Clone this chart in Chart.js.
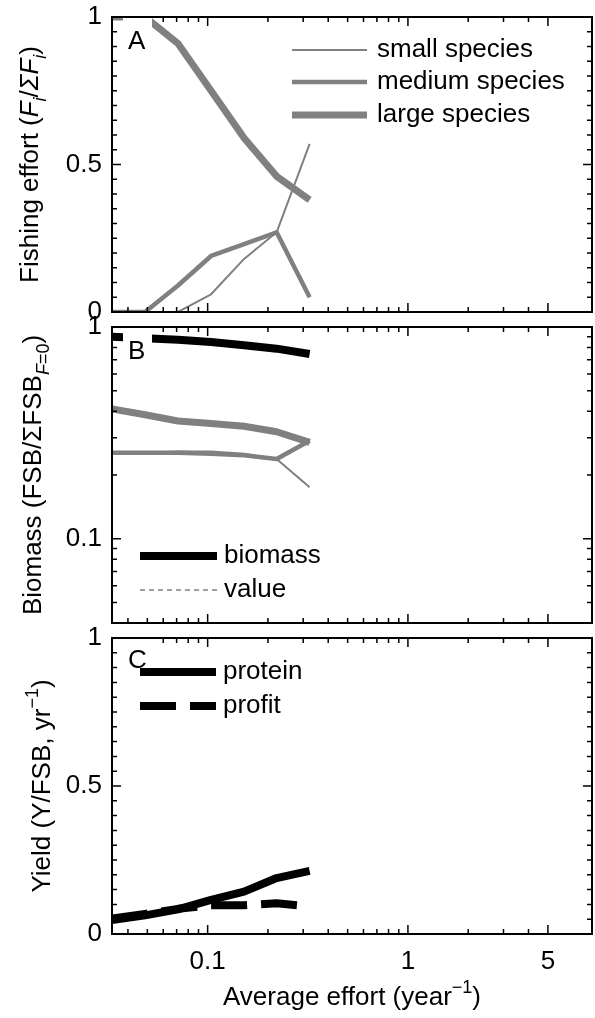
<!DOCTYPE html>
<html><head><meta charset="utf-8">
<script src="https://cdn.jsdelivr.net/npm/chart.js@4.4.0/dist/chart.umd.min.js"></script>
<style>
html,body{margin:0;padding:0;background:#fff;}
#wrap{position:relative;width:595px;height:1018px;overflow:hidden;background:#fff;}
canvas{position:absolute;left:0;}
</style></head><body>
<div id="wrap">
<canvas id="cA" width="595" height="330" style="top:0px"></canvas>
<canvas id="cB" width="595" height="330" style="top:310px"></canvas>
<canvas id="cC" width="595" height="397" style="top:621px"></canvas>
</div>
<script>
// ---------- data ----------
const effort = [0.0333, 0.0487, 0.0711, 0.104, 0.152, 0.221, 0.323];

const fishingSmall  = [0, 0, 0, 0.06, 0.18, 0.27, 0.57];
const fishingMedium = [0, 0, 0.09, 0.19, 0.23, 0.27, 0.05];
const fishingLarge  = [1, 1, 0.91, 0.75, 0.59, 0.46, 0.38];

const biomassTotal  = [0.90, 0.885, 0.87, 0.85, 0.82, 0.79, 0.745];
const biomassLarge  = [0.41, 0.385, 0.36, 0.35, 0.34, 0.32, 0.285];
const biomassMedium = [0.255, 0.255, 0.255, 0.252, 0.248, 0.238, 0.29];
const biomassSmall  = [0.255, 0.255, 0.258, 0.258, 0.252, 0.238, 0.175];

const yieldProtein = [0.047, 0.063, 0.083, 0.115, 0.143, 0.189, 0.213];
const yieldProfit  = [0.052, 0.068, 0.085, 0.097, 0.097, 0.104, 0.093];

const xTickLabels = [0.1, 1, 5];
const xMinorTicks = [0.04, 0.05, 0.06, 0.07, 0.08, 0.09, 0.2, 0.3, 0.4, 0.5, 0.6, 0.7, 0.8, 0.9, 2, 3, 4];
const yLinTicks = [0, 0.5, 1];
const yLinMinor = [0.05, 0.1, 0.15, 0.2, 0.25, 0.3, 0.35, 0.4, 0.45, 0.55, 0.6, 0.65, 0.7, 0.75, 0.8, 0.85, 0.9, 0.95];
const yLogTicks = [0.1, 1];
const yLogMinor = [0.05, 0.06, 0.07, 0.08, 0.09, 0.2, 0.3, 0.4, 0.5, 0.6, 0.7, 0.8, 0.9];

const legendFishing = ['small species', 'medium species', 'large species'];
const legendBiomass = ['biomass', 'value'];
const legendYield = ['protein', 'profit'];

// ---------- styling ----------
const FONT = '"Liberation Sans", Arial, Helvetica, sans-serif';
const FS = 26;
const GRAY = '#808080';
Chart.defaults.font.family = FONT;
Chart.defaults.font.size = FS;
Chart.defaults.color = '#000';

function pts(ys) { return effort.map((x, i) => ({ x: x, y: ys[i] })); }
function series(label, ys, color, width, dash) {
  return { label: label, data: pts(ys), borderColor: color, backgroundColor: color,
    borderWidth: width, borderDash: dash || [], pointRadius: 0, pointHoverRadius: 0,
    tension: 0, fill: false, clip: 0, borderJoinStyle: 'round', borderCapStyle: 'butt' };
}

function drawRich(ctx, segs, x, y, rot, size) {
  ctx.save();
  ctx.translate(x, y);
  ctx.rotate(rot);
  ctx.textBaseline = 'alphabetic';
  ctx.textAlign = 'left';
  const fontOf = f => (f.includes('i') ? 'italic ' : '') +
    ((f.includes('b') || f.includes('p')) ? Math.round(size * 0.7) : size) + 'px ' + FONT;
  let total = 0;
  segs.forEach(s => { ctx.font = fontOf(s[1]); total += ctx.measureText(s[0]).width; });
  let cx = -total / 2;
  ctx.fillStyle = '#000';
  segs.forEach(s => {
    ctx.font = fontOf(s[1]);
    const dy = s[1].includes('b') ? size * 0.3 : (s[1].includes('p') ? -size * 0.45 : 0);
    ctx.fillText(s[0], cx, dy);
    cx += ctx.measureText(s[0]).width;
  });
  ctx.restore();
}

const panelPlugin = {
  id: 'panel',
  afterDatasetsDraw(chart, args, o) {
    const ctx = chart.ctx, a = chart.chartArea;
    const xs = chart.scales.x, ys = chart.scales.y;
    ctx.save();
    // inward ticks on all four sides
    ctx.strokeStyle = '#000';
    ctx.lineWidth = 1.5;
    ctx.beginPath();
    const xt = (vals, len) => vals.forEach(v => {
      const p = xs.getPixelForValue(v);
      ctx.moveTo(p, a.bottom); ctx.lineTo(p, a.bottom - len);
      ctx.moveTo(p, a.top); ctx.lineTo(p, a.top + len);
    });
    const yt = (vals, len) => vals.forEach(v => {
      const p = ys.getPixelForValue(v);
      ctx.moveTo(a.left, p); ctx.lineTo(a.left + len, p);
      ctx.moveTo(a.right, p); ctx.lineTo(a.right - len, p);
    });
    xt(xTickLabels, 9); xt(xMinorTicks, 5);
    yt(o.yMajor, 9); yt(o.yMinor, 5);
    ctx.stroke();
    // panel label with white box
    ctx.fillStyle = '#fff';
    ctx.fillRect(a.left + 11, a.top + 1, 29, 44);
    ctx.fillStyle = '#000';
    ctx.font = FS + 'px ' + FONT;
    ctx.textBaseline = 'middle';
    ctx.textAlign = 'left';
    ctx.fillText(o.label, a.left + 16, a.top + o.labelDy);
    // frame
    ctx.lineWidth = 2;
    ctx.strokeStyle = '#000';
    ctx.strokeRect(a.left, a.top, a.right - a.left, a.bottom - a.top);
    // legend
    o.legend.forEach(it => {
      ctx.beginPath();
      ctx.strokeStyle = it.color;
      ctx.lineWidth = it.width;
      ctx.setLineDash(it.dash || []);
      ctx.lineCap = 'butt';
      ctx.moveTo(it.x0, a.top + it.dy);
      ctx.lineTo(it.x1, a.top + it.dy);
      ctx.stroke();
      ctx.setLineDash([]);
      ctx.fillStyle = '#000';
      ctx.font = FS + 'px ' + FONT;
      ctx.textBaseline = 'middle';
      ctx.fillText(it.text, it.tx, a.top + it.dy);
    });
    // axis titles
    drawRich(ctx, o.yTitle, o.yTitleX, (a.top + a.bottom) / 2, -Math.PI / 2, FS);
    if (o.xTitle) drawRich(ctx, o.xTitle, (a.left + a.right) / 2, a.bottom + o.xTitleDy, 0, FS);
    ctx.restore();
  }
};

function makeChart(id, datasets, yType, yMin, yMax, yMajor, showX, xHeight, panel) {
  return new Chart(document.getElementById(id), {
    type: 'line',
    data: { datasets: datasets },
    plugins: [panelPlugin],
    options: {
      responsive: false, animation: false, devicePixelRatio: 1,
      layout: { padding: { top: 17, right: 3, left: 0, bottom: 0 } },
      plugins: { legend: { display: false }, tooltip: { enabled: false }, panel: panel },
      scales: {
        x: {
          type: 'logarithmic', min: 0.0333, max: 8.3,
          grid: { display: false, drawTicks: false }, border: { display: false },
          ticks: { display: showX, padding: 12, autoSkip: false, maxRotation: 0,
            callback: v => (xTickLabels.includes(v) ? String(v) : '') },
          afterBuildTicks: s => { s.ticks = xTickLabels.map(v => ({ value: v })); },
          afterFit: s => { s.height = xHeight; s.paddingLeft = 0; s.paddingRight = 0; }
        },
        y: {
          type: yType, min: yMin, max: yMax,
          grid: { display: false, drawTicks: false }, border: { display: false },
          ticks: { padding: 10, autoSkip: false,
            callback: v => (yMajor.includes(v) ? String(v) : '') },
          afterBuildTicks: s => { s.ticks = yMajor.map(v => ({ value: v })); },
          afterFit: s => { s.width = 112; s.paddingTop = 0; s.paddingBottom = 0; }
        }
      }
    }
  });
}

// Panel A
makeChart('cA', [
  series(legendFishing[0], fishingSmall, GRAY, 2),
  series(legendFishing[1], fishingMedium, GRAY, 4.5),
  series(legendFishing[2], fishingLarge, GRAY, 7)
], 'linear', 0, 1, yLinTicks, false, 18, {
  label: 'A', labelDy: 25, yMajor: yLinTicks, yMinor: yLinMinor,
  yTitle: [['Fishing effort (', ''], ['F', 'i'], ['i', 'ib'], ['/', ''], ['ΣF', 'i'], ['i', 'ib'], [')', '']],
  yTitleX: 38,
  legend: [
    { text: legendFishing[0], color: GRAY, width: 2, x0: 292, x1: 367, tx: 377, dy: 33 },
    { text: legendFishing[1], color: GRAY, width: 4.5, x0: 292, x1: 367, tx: 377, dy: 65 },
    { text: legendFishing[2], color: GRAY, width: 7, x0: 292, x1: 367, tx: 377, dy: 98 }
  ]
});

// Panel B
makeChart('cB', [
  series('small species', biomassSmall, GRAY, 2),
  series('medium species', biomassMedium, GRAY, 4.5),
  series('large species', biomassLarge, GRAY, 7),
  series(legendBiomass[0], biomassTotal, '#000', 8)
], 'logarithmic', 0.04, 1, yLogTicks, false, 17, {
  label: 'B', labelDy: 25, yMajor: yLogTicks, yMinor: yLogMinor,
  yTitle: [['Biomass (FSB/ΣFSB', ''], ['F', 'ib'], ['=0', 'b'], [')', '']],
  yTitleX: 41,
  legend: [
    { text: legendBiomass[0], color: '#000', width: 8, x0: 140, x1: 217, tx: 224, dy: 229 },
    { text: legendBiomass[1], color: GRAY, width: 1.5, dash: [5, 4], x0: 140, x1: 217, tx: 224, dy: 263 }
  ]
});

// Panel C
makeChart('cC', [
  series(legendYield[0], yieldProtein, '#000', 8),
  series(legendYield[1], yieldProfit, '#000', 8, [36, 14])
], 'linear', 0, 1, yLinTicks, true, 84, {
  label: 'C', labelDy: 23, yMajor: yLinTicks, yMinor: yLinMinor,
  yTitle: [['Yield (Y/FSB, yr', ''], ['−1', 'p'], [')', '']],
  yTitleX: 50,
  xTitle: [['Average effort (year', ''], ['−1', 'p'], [')', '']],
  xTitleDy: 71,
  legend: [
    { text: legendYield[0], color: '#000', width: 8, x0: 140, x1: 216, tx: 223, dy: 34 },
    { text: legendYield[1], color: '#000', width: 8, dash: [36, 14], x0: 140, x1: 216, tx: 223, dy: 68 }
  ]
});
</script>
</body></html>
